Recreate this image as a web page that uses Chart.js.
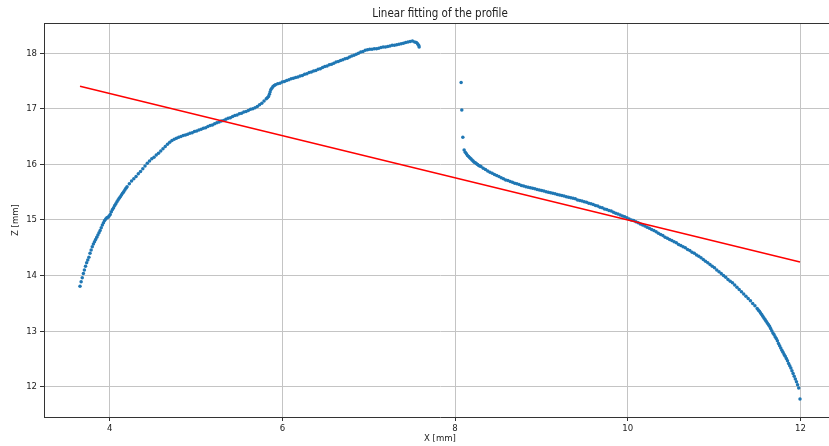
<!DOCTYPE html>
<html>
<head>
<meta charset="utf-8">
<title>Linear fitting of the profile</title>
<script src="https://cdn.jsdelivr.net/npm/chart.js@4.4.1/dist/chart.umd.min.js"></script>
<style>
  html, body { margin: 0; padding: 0; background: #ffffff; overflow: hidden; }
  #wrap { width: 840px; height: 446px; }
</style>
</head>
<body>
<div id="wrap"><canvas id="c" width="840" height="446"></canvas></div>
<script>
// Texts
const chartTitle = 'Linear fitting of the profile';
const xLabel = 'X [mm]';
const zLabel = 'Z [mm]';

// Tick values
const xTicks = [4, 6, 8, 10, 12];
const zTicks = [12, 13, 14, 15, 16, 17, 18];

// Measured profile, left flank: [X mm, Z mm]
const leftProfile = [
  [3.657,13.81],[3.670,13.89],[3.683,13.96],[3.696,14.04],[3.708,14.10],[3.721,14.17],[3.734,14.23],[3.747,14.28],
  [3.760,14.33],[3.773,14.40],[3.786,14.46],[3.799,14.52],[3.812,14.57],[3.825,14.61],[3.838,14.65],[3.851,14.69],
  [3.864,14.73],[3.877,14.77],[3.890,14.81],[3.903,14.86],[3.916,14.91],[3.929,14.95],[3.942,14.99],[3.955,15.02],
  [3.968,15.04],[3.981,15.05],[3.994,15.07],[4.007,15.10],[4.020,15.15],[4.033,15.19],[4.046,15.22],[4.059,15.26],
  [4.072,15.29],[4.085,15.33],[4.098,15.36],[4.111,15.39],[4.124,15.42],[4.137,15.45],[4.150,15.48],[4.163,15.51],
  [4.176,15.54],[4.189,15.57],[4.202,15.60],[4.228,15.65],[4.254,15.70],[4.280,15.74],[4.306,15.78],[4.332,15.83],
  [4.358,15.87],[4.384,15.92],[4.410,15.97],[4.436,16.02],[4.462,16.06],[4.488,16.10],[4.514,16.13],[4.540,16.17],
  [4.566,16.20],[4.592,16.24],[4.618,16.28],[4.644,16.32],[4.670,16.36],[4.696,16.40],[4.722,16.43],[4.748,16.45],
  [4.774,16.47],[4.800,16.49],[4.826,16.50],[4.852,16.52],[4.878,16.53],[4.904,16.54],[4.930,16.56],[4.956,16.57],
  [4.982,16.59],[5.008,16.60],[5.034,16.62],[5.060,16.63],[5.086,16.65],[5.112,16.66],[5.138,16.68],[5.164,16.70],
  [5.190,16.71],[5.216,16.73],[5.242,16.75],[5.268,16.76],[5.294,16.78],[5.320,16.79],[5.346,16.81],[5.372,16.83],
  [5.398,16.84],[5.424,16.86],[5.450,16.88],[5.476,16.89],[5.502,16.91],[5.528,16.92],[5.554,16.94],[5.580,16.95],
  [5.606,16.97],[5.632,16.99],[5.658,17.00],[5.684,17.02],[5.710,17.04],[5.736,17.07],[5.762,17.10],[5.788,17.14],
  [5.814,17.18],[5.827,17.20],[5.840,17.22],[5.850,17.26],[5.858,17.30],[5.866,17.34],[5.878,17.37],[5.892,17.40],
  [5.906,17.42],[5.920,17.43],[5.946,17.45],[5.972,17.46],[5.998,17.48],[6.024,17.49],[6.050,17.51],[6.076,17.52],
  [6.102,17.54],[6.128,17.55],[6.154,17.56],[6.180,17.57],[6.206,17.59],[6.232,17.60],[6.258,17.62],[6.284,17.63],
  [6.310,17.65],[6.336,17.66],[6.362,17.68],[6.388,17.69],[6.414,17.71],[6.440,17.72],[6.466,17.74],[6.492,17.76],
  [6.518,17.77],[6.544,17.79],[6.570,17.80],[6.596,17.82],[6.622,17.84],[6.648,17.85],[6.674,17.87],[6.700,17.88],
  [6.726,17.90],[6.752,17.91],[6.778,17.93],[6.804,17.95],[6.830,17.96],[6.856,17.98],[6.882,18.00],[6.908,18.02],
  [6.934,18.03],[6.960,18.05],[6.986,18.06],[7.012,18.07],[7.038,18.07],[7.064,18.08],[7.090,18.08],[7.116,18.09],
  [7.142,18.10],[7.168,18.11],[7.194,18.11],[7.220,18.12],[7.246,18.13],[7.272,18.14],[7.298,18.14],[7.324,18.15],
  [7.350,18.16],[7.376,18.17],[7.402,18.18],[7.428,18.19],[7.454,18.20],[7.480,18.21],[7.506,18.22],[7.532,18.20],
  [7.552,18.19],[7.566,18.17],[7.578,18.14],[7.584,18.11]
];

// Measured profile, right flank: [X mm, Z mm]
const rightProfile = [
  [8.070,17.47],[8.078,16.98],[8.090,16.49],
  [8.105,16.26],[8.118,16.22],[8.131,16.19],[8.144,16.16],[8.157,16.14],[8.170,16.12],[8.183,16.10],[8.196,16.08],
  [8.209,16.06],[8.222,16.04],[8.235,16.03],[8.248,16.01],[8.261,16.00],[8.274,15.98],[8.287,15.97],[8.300,15.96],
  [8.326,15.93],[8.352,15.91],[8.378,15.88],[8.404,15.86],[8.430,15.84],[8.456,15.82],[8.482,15.80],[8.508,15.78],
  [8.534,15.76],[8.560,15.74],[8.586,15.72],[8.612,15.71],[8.638,15.69],[8.664,15.68],[8.690,15.66],[8.716,15.65],
  [8.742,15.64],[8.768,15.62],[8.794,15.61],[8.820,15.60],[8.846,15.59],[8.872,15.58],[8.898,15.57],[8.924,15.56],
  [8.950,15.55],[8.976,15.54],[9.002,15.53],[9.028,15.52],[9.054,15.51],[9.080,15.50],[9.106,15.49],[9.132,15.48],
  [9.158,15.47],[9.184,15.46],[9.210,15.45],[9.236,15.44],[9.262,15.43],[9.288,15.42],[9.314,15.41],[9.340,15.40],
  [9.366,15.39],[9.392,15.38],[9.418,15.36],[9.444,15.35],[9.470,15.34],[9.496,15.33],[9.522,15.32],[9.548,15.30],
  [9.574,15.29],[9.600,15.28],[9.626,15.26],[9.652,15.25],[9.678,15.23],[9.704,15.22],[9.730,15.20],[9.756,15.19],
  [9.782,15.17],[9.808,15.16],[9.834,15.14],[9.860,15.12],[9.886,15.11],[9.912,15.09],[9.938,15.07],[9.964,15.06],
  [9.990,15.04],[10.016,15.02],[10.042,15.00],[10.068,14.99],[10.094,14.97],[10.120,14.95],[10.146,14.93],[10.172,14.91],
  [10.198,14.89],[10.224,14.87],[10.250,14.85],[10.276,14.83],[10.302,14.81],[10.328,14.79],[10.354,14.76],[10.380,14.74],
  [10.406,14.72],[10.432,14.69],[10.458,14.67],[10.484,14.65],[10.510,14.63],[10.536,14.61],[10.562,14.59],[10.588,14.56],
  [10.614,14.54],[10.640,14.52],[10.666,14.50],[10.692,14.47],[10.718,14.45],[10.744,14.42],[10.770,14.40],[10.796,14.37],
  [10.822,14.35],[10.848,14.32],[10.874,14.29],[10.900,14.26],[10.926,14.23],[10.952,14.20],[10.978,14.17],[11.004,14.14],
  [11.030,14.10],[11.056,14.07],[11.082,14.04],[11.108,14.00],[11.134,13.97],[11.160,13.93],[11.186,13.90],[11.212,13.87],
  [11.238,13.83],[11.264,13.79],[11.290,13.75],[11.316,13.71],[11.342,13.67],[11.368,13.63],[11.394,13.59],[11.420,13.55],
  [11.446,13.50],[11.472,13.46],[11.498,13.41],[11.511,13.38],[11.524,13.36],[11.537,13.33],[11.550,13.30],[11.563,13.27],
  [11.576,13.24],[11.589,13.21],[11.602,13.18],[11.615,13.15],[11.628,13.12],[11.641,13.09],[11.654,13.05],[11.667,13.01],
  [11.680,12.97],[11.693,12.94],[11.706,12.90],[11.719,12.87],[11.732,12.83],[11.745,12.78],[11.758,12.74],[11.771,12.70],
  [11.784,12.66],[11.797,12.62],[11.810,12.58],[11.823,12.55],[11.836,12.51],[11.849,12.47],[11.862,12.42],[11.875,12.38],
  [11.888,12.34],[11.901,12.29],[11.914,12.24],[11.927,12.19],[11.940,12.14],[11.953,12.09],[11.966,12.04],[11.979,11.98],
  [11.994,11.78]
];

// Least-squares line end points: [X mm, Z mm]
const fitLine = [[3.657,17.405],[11.994,14.245]];

const toXY = arr => arr.map(([x, z]) => ({ x: x, y: z }));

// Axis limits with a 5% margin around all plotted values
const allX = [...leftProfile, ...rightProfile, ...fitLine].map(p => p[0]);
const allZ = [...leftProfile, ...rightProfile, ...fitLine].map(p => p[1]);
const xMinD = Math.min(...allX), xMaxD = Math.max(...allX);
const zMinD = Math.min(...allZ), zMaxD = Math.max(...allZ);
const xPad = (xMaxD - xMinD) * 0.05, zPad = (zMaxD - zMinD) * 0.05;

const FONT = "'DejaVu Sans Condensed', 'DejaVu Sans', sans-serif";
Chart.defaults.font.family = FONT;
Chart.defaults.color = '#222222';

const frameAndLabels = {
  id: 'frameAndLabels',
  afterDraw(chart) {
    const { ctx, chartArea: a } = chart;
    ctx.save();
    // top spine
    ctx.strokeStyle = '#333333';
    ctx.lineWidth = 1;
    ctx.beginPath();
    ctx.moveTo(a.left, Math.round(a.top) + 0.5);
    ctx.lineTo(a.right, Math.round(a.top) + 0.5);
    ctx.stroke();
    // texts
    ctx.fillStyle = '#222222';
    ctx.textAlign = 'center';
    ctx.textBaseline = 'middle';
    const cx = (a.left + a.right) / 2;
    ctx.font = '11.5px ' + FONT;
    ctx.fillText(chartTitle, cx, 14);
    ctx.font = '9.5px ' + FONT;
    ctx.fillText(xLabel, cx, 439);
    ctx.translate(16, (a.top + a.bottom) / 2);
    ctx.rotate(-Math.PI / 2);
    ctx.fillText(zLabel, 0, 0);
    ctx.restore();
  }
};

new Chart(document.getElementById('c'), {
  type: 'scatter',
  data: {
    datasets: [
      {
        label: 'fit',
        data: toXY(fitLine),
        showLine: true,
        borderColor: '#ff0000',
        borderWidth: 1.4,
        pointRadius: 0,
        order: 0
      },
      {
        label: 'profile',
        data: toXY(leftProfile.concat(rightProfile)),
        backgroundColor: '#1f77b4',
        borderWidth: 0,
        pointRadius: 1.75,
        showLine: false,
        order: 1
      }
    ]
  },
  options: {
    responsive: false,
    animation: false,
    devicePixelRatio: 1,
    layout: { padding: { top: 23, right: 3, left: 0, bottom: 0 } },
    plugins: {
      legend: { display: false },
      tooltip: { enabled: false },
      title: { display: false }
    },
    scales: {
      x: {
        type: 'linear',
        min: xMinD - xPad,
        max: xMaxD + xPad,
        afterFit(s) { s.height = 29; },
        afterBuildTicks(s) { s.ticks = xTicks.map(v => ({ value: v })); },
        ticks: { padding: 2, font: { size: 9.5 }, color: '#222222', callback: v => String(v), maxRotation: 0 },
        grid: { color: '#c4c4c4', lineWidth: 1, tickColor: '#333333', tickLength: 4 },
        border: { display: true, color: '#333333', width: 1 }
      },
      y: {
        type: 'linear',
        min: zMinD - zPad,
        max: zMaxD + zPad,
        afterFit(s) { s.width = 44; },
        afterBuildTicks(s) { s.ticks = zTicks.map(v => ({ value: v })); },
        ticks: { padding: 3, font: { size: 9.5 }, color: '#222222', callback: v => String(v) },
        grid: { color: '#c4c4c4', lineWidth: 1, tickColor: '#333333', tickLength: 4 },
        border: { display: true, color: '#333333', width: 1 }
      }
    }
  },
  plugins: [frameAndLabels]
});
</script>
</body>
</html>
